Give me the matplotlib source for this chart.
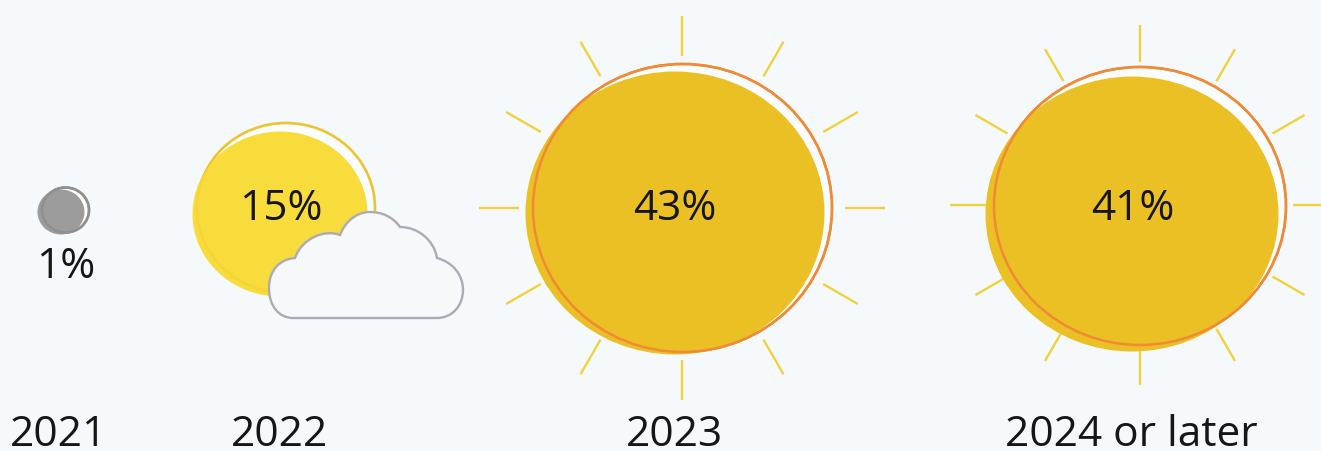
"""Sunny-forecast icon chart: share of answers per year."""

import math

import matplotlib
matplotlib.use('Agg')
import matplotlib.pyplot as plt
from matplotlib.patches import Ellipse, PathPatch
from matplotlib.path import Path

plt.rcParams['font.family'] = ['Open Sans', 'DejaVu Sans']

# --- data ---
years = ['2021', '2022', '2023', '2024 or later']
shares = [1, 15, 43, 41]

# --- layout, in image pixels ---
W, H = 1321, 451
BG = '#f5f9fc'
TEXT = '#161616'
GAP = '#fcfdfe'
FS = 30.5
fills = ['#9c9c9c', '#f8dc3c', '#ebc024', '#ebc024']
rims = ['#8f8f8f', '#eec42a', '#f08a34', '#f08a34']
rim_alpha_over_fill = [1.0, 0.3, 1.0, 1.0]
fill_boxes = [(61, 212, 47, 45), (280, 214, 175, 165), (675, 213, 299, 283), (1132, 214, 293, 275)]
rim_boxes = [(65.5, 210, 47, 45), (286, 208, 178, 170), (682.5, 208, 299, 288), (1140, 206, 292, 278)]
share_pos = [(66, 267), (281, 209), (675, 209), (1133, 209)]
year_pos = [(59, 446), (280, 446), (675, 446), (1131, 446)]
# centre x, centre y, inner rx, outer rx, inner ry, outer ry
rays = [None, None, (682, 208, 163, 203, 152, 192), (1140, 205, 153, 190, 143, 180)]


def draw_rays(ax, spec):
    cx, cy, rx0, rx1, ry0, ry1 = spec
    for deg in range(0, 360, 30):
        c, s = math.cos(math.radians(deg)), math.sin(math.radians(deg))
        ax.plot([cx + rx0 * c, cx + rx1 * c], [cy - ry0 * s, cy - ry1 * s],
                color='#f0d23c', lw=1.7, solid_capstyle='butt', zorder=1)


def draw_cloud(ax):
    verts = [
        (293, 318),
        (437, 318),
        (452, 318), (463, 306), (463, 290),
        (463, 274), (452, 262), (437, 258),
        (434, 240), (418, 227), (400, 227),
        (393, 217), (382, 212), (370, 212),
        (356, 212), (345, 222), (340, 235),
        (325, 229), (302, 238), (295, 258),
        (280, 259), (269, 270), (269, 288),
        (269, 306), (279, 318), (293, 318),
    ]
    codes = [Path.MOVETO, Path.LINETO] + [Path.CURVE4] * 24
    ax.add_patch(PathPatch(Path(verts, codes), fc='#f6f8fa', ec='#aeaab4', lw=1.7, zorder=6))


fig = plt.figure(figsize=(W / 100, H / 100), dpi=100, facecolor=BG)
ax = fig.add_axes([0, 0, 1, 1])
ax.set_xlim(0, W)
ax.set_ylim(H, 0)
ax.axis('off')

for i, year in enumerate(years):
    if rays[i]:
        draw_rays(ax, rays[i])
    rx, ry, rw, rh = rim_boxes[i]
    # white gap and rim sit behind the fill, then the rim shows faintly across it
    ax.add_patch(Ellipse((rx, ry), rw, rh, fc=GAP, ec=rims[i], lw=1.8, zorder=2))
    x, y, w, h = fill_boxes[i]
    ax.add_patch(Ellipse((x, y), w, h, fc=fills[i], ec='none', zorder=3))
    ax.add_patch(Ellipse((rx, ry), rw, rh, fc='none', ec=rims[i], lw=1.8,
                         alpha=rim_alpha_over_fill[i], zorder=4))
    ax.text(*share_pos[i], f'{shares[i]}%', fontsize=FS, color=TEXT,
            ha='center', va='center', zorder=7)
    ax.text(*year_pos[i], year, fontsize=FS, color=TEXT,
            ha='center', va='baseline', zorder=7)

draw_cloud(ax)

fig.savefig('out.png', dpi=100, facecolor=BG)
